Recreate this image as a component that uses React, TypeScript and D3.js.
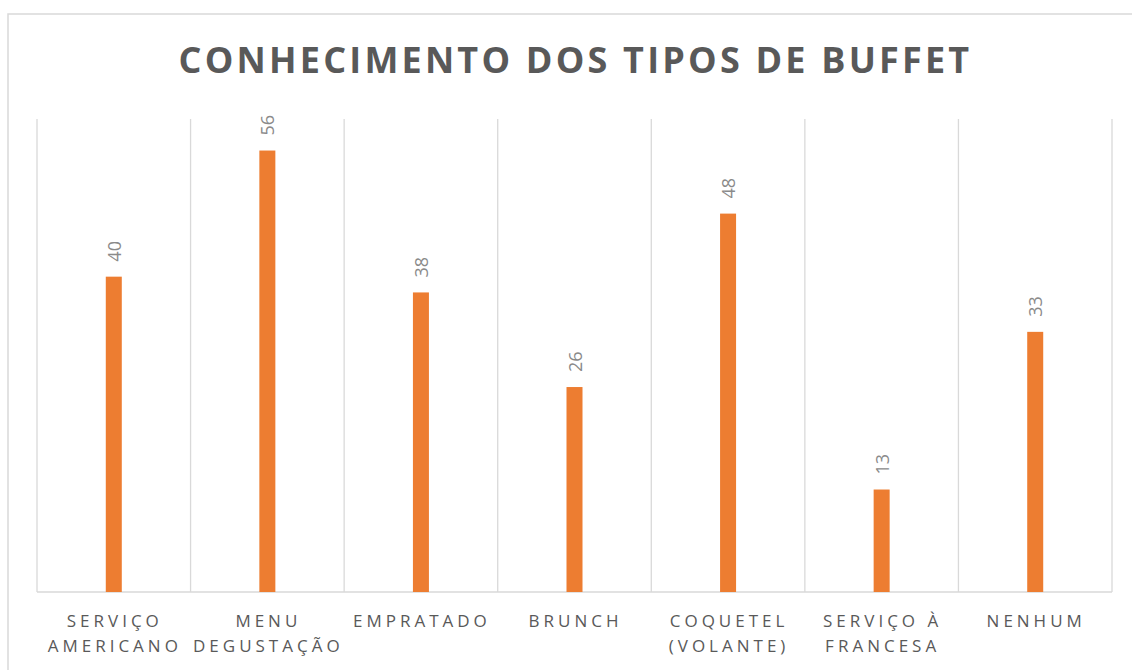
import * as d3 from 'd3';

// values
const categories = [
  'SERVIÇO AMERICANO',
  'MENU DEGUSTAÇÃO',
  'EMPRATADO',
  'BRUNCH',
  'COQUETEL (VOLANTE)',
  'SERVIÇO À FRANCESA',
  'NENHUM',
];
const values = [40, 56, 38, 26, 48, 13, 33];
const yMax = 60;

const title = 'CONHECIMENTO DOS TIPOS DE BUFFET';

const width = 1132;
const height = 670;
const plot = { left: 37, right: 1112, top: 119, bottom: 592 };

// greedy wrap on char count, like the excel label wrapping
function wrap(label: string, maxChars: number) {
  const words = label.split(' ');
  const lines: string[] = [];
  let cur = '';
  words.forEach((w) => {
    const next = cur ? cur + ' ' + w : w;
    if (next.length > maxChars && cur) {
      lines.push(cur);
      cur = w;
    } else {
      cur = next;
    }
  });
  if (cur) lines.push(cur);
  return lines;
}

function App() {
  const x = d3
    .scaleBand()
    .domain(categories)
    .range([plot.left, plot.right]);
  const y = d3.scaleLinear().domain([0, yMax]).range([plot.bottom, plot.top]);
  const barWidth = 16;
  const font = "'Open Sans', sans-serif";

  // vertical separators between categories
  const seps = categories.map((c) => x(c)!).concat([plot.right]);

  return (
    <svg
      width={width}
      height={height}
      style={{ position: 'absolute', left: 0, top: 0, background: '#fff' }}
    >
      <rect
        x={8}
        y={14}
        width={width + 10}
        height={height + 10}
        fill="#fff"
        stroke="#d9d9d9"
        strokeWidth={1.5}
      />
      <text
        x={(plot.left + plot.right) / 2 + 1}
        y={73}
        textAnchor="middle"
        fontFamily={font}
        fontWeight={700}
        fontSize={36}
        letterSpacing={3.2}
        fill="#595959"
      >
        {title}
      </text>
      {seps.map((sx, i) => (
        <line
          key={i}
          x1={sx}
          x2={sx}
          y1={plot.top}
          y2={plot.bottom}
          stroke="#d9d9d9"
          strokeWidth={1.3}
        />
      ))}
      <line
        x1={plot.left}
        x2={plot.right}
        y1={plot.bottom}
        y2={plot.bottom}
        stroke="#d9d9d9"
        strokeWidth={1.3}
      />
      {categories.map((c, i) => {
        const cx = x(c)! + x.bandwidth() / 2;
        return (
          <g key={c}>
            <rect
              x={cx - barWidth / 2}
              y={y(values[i])}
              width={barWidth}
              height={plot.bottom - y(values[i])}
              fill="#ED7D31"
            />
            <text
              transform={`translate(${cx + 7},${y(values[i]) - 15}) rotate(-90)`}
              fontFamily={font}
              fontSize={18}
              fill="#8a8a8a"
            >
              {values[i]}
            </text>
            {wrap(c, 10).map((line, j) => (
              <text
                key={j}
                x={cx + 1}
                y={627 + j * 25}
                textAnchor="middle"
                fontFamily={font}
                fontSize={17}
                letterSpacing={4.0}
                fill="#595959"
              >
                {line}
              </text>
            ))}
          </g>
        );
      })}
    </svg>
  );
}

export default App;
